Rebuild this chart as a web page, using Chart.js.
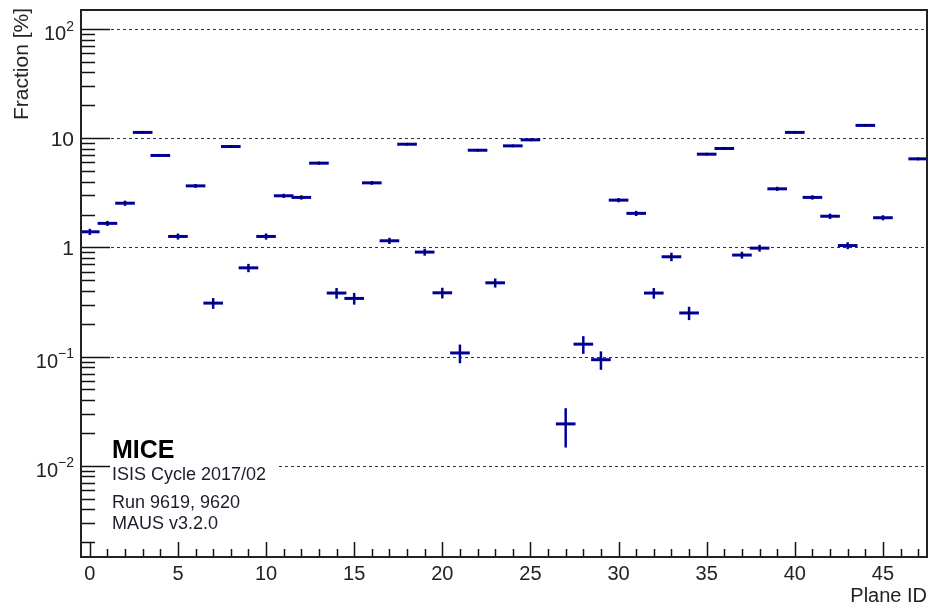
<!DOCTYPE html>
<html>
<head>
<meta charset="utf-8">
<script src="https://cdn.jsdelivr.net/npm/chart.js@4"></script>
<style>
  html, body { margin: 0; padding: 0; background: #fff; }
  #wrap { width: 930px; height: 606px; }
</style>
</head>
<body>
<div id="wrap"><canvas id="grafico" width="930" height="606"></canvas></div>
<script>
// --- DATA ---
const planeIds = [0, 1, 2, 3, 4, 5, 6, 7, 8, 9, 10, 11, 12, 13, 14, 15, 16, 17, 18, 19, 20, 21, 22, 23,
                  24, 25, 26, 27, 28, 29, 30, 31, 32, 33, 34, 35, 36, 37, 38, 39, 40, 41, 42, 43, 44, 45, 46, 47];
const fraction = [1.39, 1.66, 2.54, 11.3, 6.95, 1.26, 3.66, 0.309, 8.39, 0.65, 1.26, 2.97, 2.87, 5.91, 0.382, 0.341,
                  3.90, 1.15, 8.81, 0.906, 0.384, 0.108, 7.76, 0.474, 8.51, 9.66, null, 0.0242, 0.130, 0.0937, 2.71, 2.05,
                  0.382, 0.821, 0.251, 7.14, 8.05, 0.851, 0.985, 3.44, 11.3, 2.87, 1.93, 1.04, 13.1, 1.87, null, 6.47];
const fractionErr = [0.09, 0.09, 0.14, 0.3, 0.2, 0.08, 0.15, 0.035, 0.25, 0.057, 0.082, 0.13, 0.13, 0.2, 0.043, 0.042,
                     0.16, 0.075, 0.25, 0.066, 0.043, 0.021, 0.22, 0.045, 0.25, 0.27, null, 0.0095, 0.024, 0.018, 0.12, 0.11,
                     0.043, 0.073, 0.035, 0.21, 0.23, 0.062, 0.07, 0.15, 0.3, 0.13, 0.11, 0.075, 0.3, 0.1, null, 0.2];
const xMajorTicks = [0, 5, 10, 15, 20, 25, 30, 35, 40, 45];
const xTickLabels = ['0', '5', '10', '15', '20', '25', '30', '35', '40', '45'];
const yDecades = [0.01, 0.1, 1, 10, 100];
const yTickLabels = ['10^\u22122', '10^\u22121', '1', '10', '10^2'];
const infoLines = ['ISIS Cycle 2017/02', 'Run 9619, 9620', 'MAUS v3.2.0'];

const FONT = '"Liberation Sans", Arial, Helvetica, sans-serif';
const BLUE = '#000099';

// desenha tudo no estilo ROOT: grade pontilhada, barras de erro, marcas internas
const estiloRoot = {
    id: 'estiloRoot',
    beforeDatasetsDraw(chart) {
        const { ctx, chartArea: a, scales: { x, y } } = chart;
        ctx.save();
        ctx.strokeStyle = '#333';
        ctx.lineWidth = 1;
        ctx.setLineDash([3, 3]);
        yDecades.forEach(d => {
            const py = Math.round(y.getPixelForValue(d)) + 0.5;
            ctx.beginPath();
            ctx.moveTo(a.left, py);
            ctx.lineTo(a.right, py);
            ctx.stroke();
        });
        ctx.setLineDash([]);
        // caixa branca atras do texto MICE
        ctx.fillStyle = '#fff';
        ctx.fillRect(a.left + 22, 430, 276 - a.left - 22, 110);
        ctx.restore();
    },
    afterDatasetsDraw(chart) {
        const { ctx, chartArea: a, scales: { x, y } } = chart;
        ctx.save();

        // pontos com barras de erro
        planeIds.forEach((id, i) => {
            const v = fraction[i];
            if (v == null) return;
            const e = fractionErr[i];
            const cx = x.getPixelForValue(id);
            const x0 = x.getPixelForValue(id - 0.5);
            const x1 = x.getPixelForValue(id + 0.5);
            const cy = y.getPixelForValue(v);
            ctx.strokeStyle = BLUE;
            ctx.lineWidth = 3;
            ctx.beginPath();
            ctx.moveTo(x0 - 1, cy);
            ctx.lineTo(x1 + 1, cy);
            ctx.stroke();
            ctx.lineWidth = 2.5;
            ctx.beginPath();
            ctx.moveTo(cx, y.getPixelForValue(v + e));
            ctx.lineTo(cx, y.getPixelForValue(v - e));
            ctx.stroke();
            ctx.fillStyle = '#000';
            ctx.fillRect(Math.round(cx) - 1, Math.round(cy) - 1, 1.5, 1.5);
        });

        // marcas do eixo y (para dentro)
        ctx.strokeStyle = '#111';
        ctx.lineWidth = 1.5;
        const yMin = y.min, yMax = y.max;
        for (let p = -3; p <= 2; p++) {
            for (let m = 1; m <= 9; m++) {
                const val = m * Math.pow(10, p);
                if (val < yMin || val > yMax) continue;
                const py = Math.round(y.getPixelForValue(val)) + 0.5;
                const len = m === 1 ? 29 : 14;
                ctx.beginPath();
                ctx.moveTo(a.left, py);
                ctx.lineTo(a.left + len, py);
                ctx.stroke();
            }
        }
        // marcas do eixo x
        for (let t = 0; t <= 47; t++) {
            const px = Math.round(x.getPixelForValue(t)) + 0.5;
            const len = xMajorTicks.includes(t) ? 15 : 8;
            ctx.beginPath();
            ctx.moveTo(px, a.bottom);
            ctx.lineTo(px, a.bottom - len);
            ctx.stroke();
        }

        // moldura
        ctx.strokeStyle = '#222';
        ctx.lineWidth = 2;
        ctx.strokeRect(a.left, a.top, a.right - a.left, a.bottom - a.top);

        // rotulos do eixo y
        ctx.fillStyle = '#222';
        ctx.textAlign = 'right';
        ctx.textBaseline = 'alphabetic';
        const rx = 74;
        yDecades.forEach((d, i) => {
            const py = y.getPixelForValue(d);
            const lab = yTickLabels[i];
            if (lab.includes('^')) {
                const [base, exp] = lab.split('^');
                ctx.font = '14px ' + FONT;
                const ew = ctx.measureText(exp).width;
                ctx.fillText(exp, rx, py + 1.5);
                ctx.font = '20px ' + FONT;
                ctx.fillText(base, rx - ew, py + 11);
            } else {
                ctx.font = '21px ' + FONT;
                ctx.fillText(lab, rx, py + 8);
            }
        });

        // rotulos do eixo x
        ctx.textAlign = 'center';
        ctx.font = '20px ' + FONT;
        xMajorTicks.forEach((t, i) => {
            ctx.fillText(xTickLabels[i], x.getPixelForValue(t), 580);
        });

        // titulos dos eixos
        ctx.textAlign = 'right';
        ctx.fillText('Plane ID', a.right, 602);
        ctx.save();
        ctx.translate(28, 8);
        ctx.rotate(-Math.PI / 2);
        ctx.font = '21px ' + FONT;
        ctx.fillStyle = '#2a2222';
        ctx.fillText('Fraction [%]', 0, 0);
        ctx.restore();

        // texto MICE
        ctx.textAlign = 'left';
        ctx.fillStyle = '#000';
        ctx.font = 'bold 25px ' + FONT;
        ctx.fillText('MICE', 112, 458);
        ctx.fillStyle = '#1c1c2a';
        ctx.font = '18px ' + FONT;
        ctx.fillText(infoLines[0], 112, 480);
        ctx.fillText(infoLines[1], 112, 508);
        ctx.fillText(infoLines[2], 112, 529);

        ctx.restore();
    }
};

const pontos = planeIds.map((id, i) => ({ x: id, y: fraction[i] })).filter(p => p.y != null);

new Chart(document.getElementById('grafico').getContext('2d'), {
    type: 'scatter',
    data: {
        datasets: [{
            label: 'Fraction',
            data: pontos,
            pointRadius: 0,
            pointHoverRadius: 0,
            showLine: false,
            borderColor: BLUE,
            backgroundColor: BLUE
        }]
    },
    options: {
        responsive: false,
        animation: false,
        events: [],
        layout: { padding: { left: 81, top: 10, right: 3, bottom: 49 } },
        plugins: { legend: { display: false }, tooltip: { enabled: false } },
        scales: {
            x: { type: 'linear', min: -0.5, max: 47.5, display: false },
            y: { type: 'logarithmic', min: 0.001462, max: 149.3, display: false }
        }
    },
    plugins: [estiloRoot]
});
</script>
</body>
</html>
